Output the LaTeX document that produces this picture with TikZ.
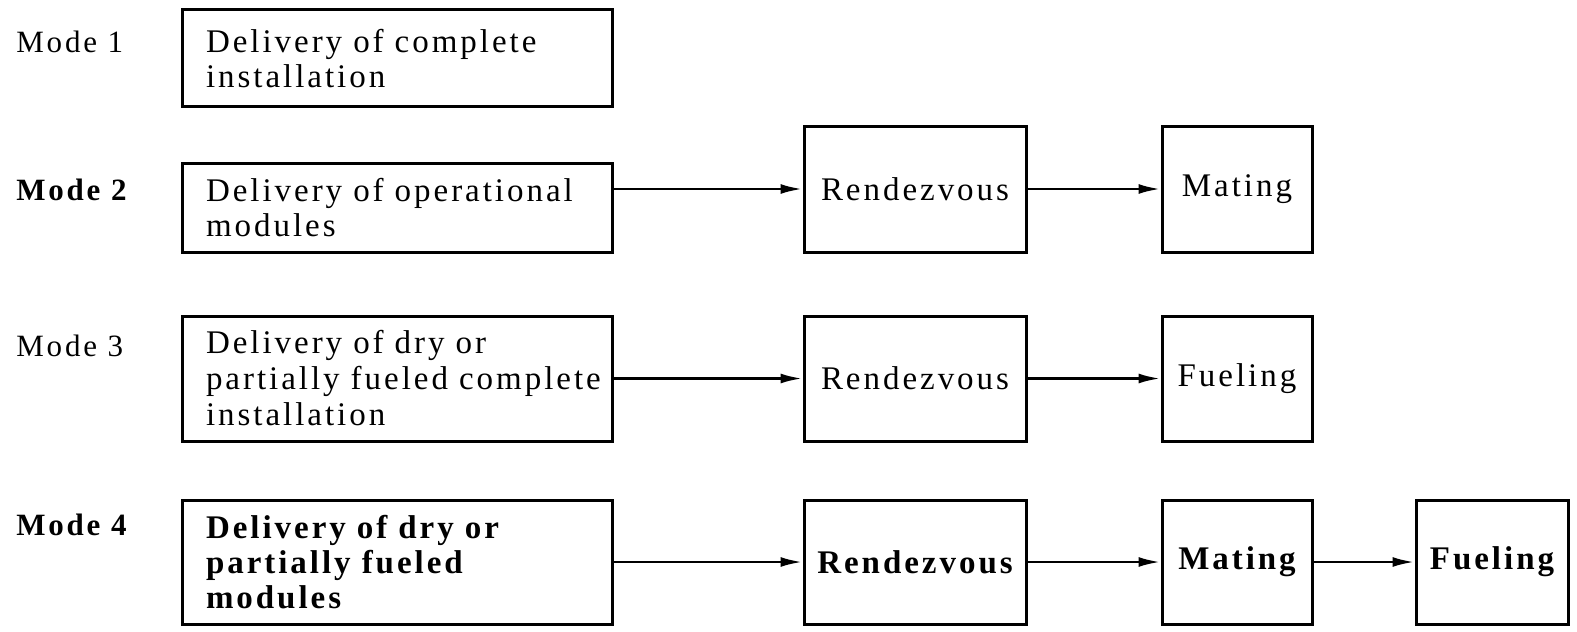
\documentclass[tikz,border=0pt]{standalone}
\usepackage{fontspec}
\setmainfont{Liberation Serif}[LetterSpace=9]
\usetikzlibrary{arrows.meta}
\begin{document}
\begin{tikzpicture}[x=0.5pt,y=-0.5pt,
  every node/.style={font=\fontsize{16.5}{17.5}\selectfont},
  box/.style={draw,line width=1.5pt,inner sep=0pt,align=center},
  dbox/.style={box,text width=191pt,inner xsep=12pt,align=left},
  sbox/.style={box,minimum width=111pt},
  tbox/.style={box,minimum width=75pt},
  modelab/.style={anchor=base west,inner sep=0pt,font=\fontsize{15.5}{17.5}\selectfont},
  arr/.style={line width=1.4pt,-{Latex[length=11pt,width=5pt]}}]
\useasboundingbox (0,0) rectangle (1577,631);
% labels
\node[modelab] (l1) at (16,53) {Mode 1};
\node[modelab,font=\fontsize{15.5}{17.5}\selectfont\bfseries] (l2) at (16,200) {Mode 2};
\node[modelab] (l3) at (16,356) {Mode 3};
\node[modelab,font=\fontsize{15.5}{17.5}\selectfont\bfseries] (l4) at (16,535) {Mode 4};
% row 1
\node[dbox,minimum height=48.5pt] (d1) at (397,58.5) {Delivery of complete\\installation};
% row 2
\node[dbox,minimum height=44.5pt] (d2) at (397,207.5) {\mbox{Delivery of operational}\\modules};
\node[sbox,minimum height=63pt] (r2) at (915,189) {Rendezvous};
\node[tbox,minimum height=63pt] (m2) at (1237,189) {Mating};
% row 3
\node[dbox,minimum height=62.5pt,font=\fontsize{16.5}{18}\selectfont] (d3) at (397,378.5) {Delivery of dry or\\\mbox{partially fueled complete}\\installation};
\node[sbox,minimum height=62.5pt] (r3) at (915,378.5) {Rendezvous};
\node[tbox,minimum height=62.5pt] (f3) at (1237,378.5) {Fueling};
% row 4
\begin{scope}[every node/.append style={font=\fontsize{16.5}{17.5}\selectfont\bfseries}]
\node[dbox,minimum height=62pt] (d4) at (397,562) {Delivery of dry or\\partially fueled\\modules};
\node[sbox,minimum height=62pt] (r4) at (915,562) {Rendezvous};
\node[tbox,minimum height=62pt] (m4) at (1237,562) {Mating};
\node[tbox,minimum width=76pt,minimum height=62pt] (f4) at (1492,562) {Fueling};
\end{scope}
% arrows
\draw[arr] (d2.east |- r2.west) -- (r2.west);
\draw[arr] (r2) -- (m2);
\draw[arr] (d3) -- (r3);
\draw[arr] (r3) -- (f3);
\draw[arr] (d4) -- (r4);
\draw[arr] (r4) -- (m4);
\draw[arr] (m4) -- (f4);
\end{tikzpicture}
\end{document}
